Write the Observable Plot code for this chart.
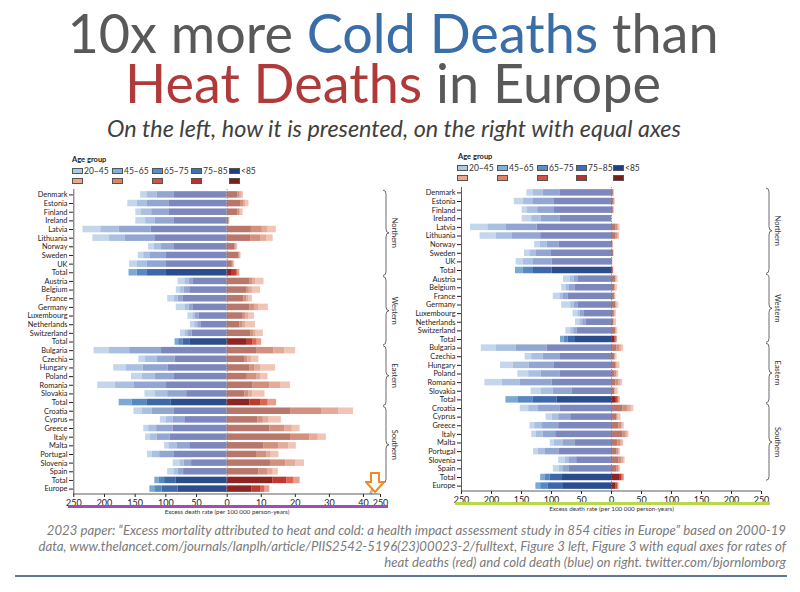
<!DOCTYPE html>
<html><head><meta charset="utf-8">
<script src="https://cdn.jsdelivr.net/npm/d3@7"></script>
<script src="https://cdn.jsdelivr.net/npm/@observablehq/plot@0.6"></script>
<style>
body{margin:0;background:#fff;}
#root{position:relative;width:800px;height:592px;overflow:hidden;font-family:Lato,"Open Sans",sans-serif;}
.t{position:absolute;left:0;width:800px;text-align:center;color:#595959;white-space:nowrap;}
.title{top:1.6px;left:-7px;font-size:54px;line-height:50px;padding:6px 0;}
.sub{top:115px;left:-6px;font-size:23.4px;line-height:28px;font-style:italic;color:#404040;margin-top:-1px;}
.blue{color:#3a6ea8}.red{color:#b03a3a}
.cap{position:absolute;right:14px;top:522px;width:790px;text-align:right;font-style:italic;color:#7a7a7a;font-size:13.2px;line-height:16px;white-space:nowrap;}
.rule{position:absolute;left:15px;width:772px;top:575px;height:1.5px;background:#5b7a99;}
.panel{position:absolute;top:150px;}
.leg{position:absolute;color:#222;}
.leg b{position:absolute;font-size:7.5px;line-height:8px;white-space:nowrap;}
.sw{position:absolute;width:11px;height:6px;border:0.6px solid #555;box-sizing:border-box;}
.lbl{position:absolute;font-size:8.5px;line-height:9px;white-space:nowrap;color:#333;}
.line{position:absolute;height:3px;}
</style></head><body><div id="root">
<div class="t title">10x more <span class="blue">Cold Deaths</span> than<br><span class="red">Heat Deaths</span> in Europe</div>
<div class="t sub">On the left, how it is presented, on the right with equal axes</div>
<div class="cap">2023 paper: “Excess mortality attributed to heat and cold: a health impact assessment study in 854 cities in Europe” based on 2000-19<br>data, www.thelancet.com/journals/lanplh/article/PIIS2542-5196(23)00023-2/fulltext, Figure 3 left, Figure 3 with equal axes for rates of<br>heat deaths (red) and cold death (blue) on right. twitter.com/bjornlomborg</div>
<div class="rule"></div>
</div>
<script>
const rows = ["Denmark","Estonia","Finland","Ireland","Latvia","Lithuania","Norway","Sweden","UK","Total",
  "Austria","Belgium","France","Germany","Luxembourg","Netherlands","Switzerland","Total",
  "Bulgaria","Czechia","Hungary","Poland","Romania","Slovakia","Total",
  "Croatia","Cyprus","Greece","Italy","Malta","Portugal","Slovenia","Spain","Total","Europe"];
const region = [...Array(10).fill("Northern"),...Array(8).fill("Western"),...Array(7).fill("Eastern"),...Array(9).fill("Southern"),"Europe"];
const groupNames = ["Northern","Western","Eastern","Southern"];
const ageGroups = ["20–45","45–65","65–75","75–85","<85"];
// cumulative cold-death rates, inner segment to outer (per 100 000 person-years)
const cold = [
 [86,114,130,141],[95,130,147,162],[95,123,140,149],[86,117,133,149],[124,176,206,235],
 [118,166,192,219],[87,107,119,128],[100,126,136,145],[99,130,147,159],[99,130,147,160],
 [56,62,69,80],[61,70,76,83],[72,80,86,97],[56,62,68,83],[46,52,56,64],
 [42,48,53,60],[57,63,68,76],[60,72,79,85],
 [107,159,192,217],[85,114,133,144],[96,137,164,185],[86,117,138,156],[99,152,182,211],
 [66,97,117,134],[91,131,155,176],
 [86,122,138,152],[68,88,99,109],[88,115,128,136],[93,114,125,133],[61,81,95,102],
 [87,110,122,130],[58,70,77,88],[71,80,87,97],[83,102,111,118],[80,106,118,126]];
// cumulative heat-death rates, inner segment to outer
const heat = [
 [3.1,3.8,4.4,4.8],[3.9,4.8,5.4,6.4],[3.1,3.7,4.1,4.7],[0.4,0.6,0.7,0.8],[7.1,10.3,12.0,14.4],
 [6.9,9.8,11.6,13.5],[2.2,2.6,2.9,3.1],[3.4,3.7,3.9,4.1],[1.5,1.8,2.0,2.2],[1.5,2.7,3.2,3.7],
 [6.6,7.5,8.3,10.8],[5.7,6.5,7.4,9.8],[4.9,5.7,6.4,7.4],[6.7,8.0,9.3,12.1],[4.7,5.5,6.4,8.0],
 [3.7,4.5,5.4,8.3],[6.9,7.7,8.5,10.6],[5.9,7.6,8.8,10.1],
 [8.8,13.7,16.9,20.1],[5.1,6.1,7.1,9.3],[6.7,8.2,9.8,14.2],[5.9,8.6,9.8,12.0],[7.6,12.5,15.7,18.6],
 [5.2,6.3,7.4,11.1],[6.7,9.8,12.0,14.5],
 [18.6,27.7,32.8,37.1],[9.0,10.6,12.3,15.9],[12.5,16.9,19.1,21.4],[18.6,24.3,26.7,29.1],[10.8,15.2,18.1,20.3],
 [8.6,11.6,12.9,15.2],[12.7,17.2,20.1,22.7],[9.3,12.0,13.5,15.0],[13.4,17.5,19.6,21.4],[7.2,9.8,11.1,12.5]];
const leftTicks = [-250,-200,-150,-100,-50,0,10,20,30,40,45];
const rightTicks = [-250,-200,-150,-100,-50,0,50,100,150,200,250];

const coldCountry = ["#7c88bd","#93a6d2","#a9c0e0","#c3d6eb"];
const coldTotal = ["#2b4d8e","#3f68aa","#5689c1","#7ba9d3"];
const heatCountry = ["#b8776a","#d2907e","#e4aa9a","#f1c5b6"];
const heatTotal = ["#8e2424","#c0392f","#dc6552","#ec9c8a"];
const legBlue = ["#a9cbe8","#7fb0db","#5a8fc6","#3d70b8","#1e3f87"];
const legRed = ["#f0a58c","#e68063","#d8503f","#bd2e2e","#7c1c1c"];

const keys = rows.map((r,i) => region[i] + ":" + r);
const segs = [];
rows.forEach((r,i) => {
  const tot = r === "Total" || r === "Europe";
  cold[i].forEach((v,k) => segs.push({key: keys[i], side: "cold", k, x1: -(k ? cold[i][k-1] : 0), x2: -v,
    fill: (tot ? coldTotal : coldCountry)[k]}));
  heat[i].forEach((v,k) => segs.push({key: keys[i], side: "heat", k, x1: k ? heat[i][k-1] : 0, x2: v,
    fill: (tot ? heatTotal : heatCountry)[k]}));
});
segs.sort((a,b) => b.k - a.k);

const font = "Lato, 'Open Sans', sans-serif";

function decorations(braceX, labelX) {
  return (index, scales, values, dims) => {
    const y = scales.y;
    const bw = y.bandwidth ? y.bandwidth() : 6;
    const step = y.step ? y.step() : bw;
    const g = d3.create("svg:g").attr("font-family", font);
    g.append("line").attr("x1", dims.marginLeft).attr("x2", dims.width - dims.marginRight)
      .attr("y1", dims.height - dims.marginBottom).attr("y2", dims.height - dims.marginBottom)
      .attr("stroke", "#333").attr("stroke-width", 0.8);
    for (const grp of groupNames) {
      const ks = keys.filter((k,i) => region[i] === grp);
      const y1 = y(ks[0]) - (step - bw) / 2;
      const y2 = y(ks[ks.length-1]) + bw + (step - bw) / 2 - 1;
      const ym = (y1 + y2) / 2, w = 3, r = 4, x = braceX;
      g.append("path")
        .attr("d", `M${x},${y1} Q${x+w},${y1} ${x+w},${y1+r} L${x+w},${ym-r} Q${x+w},${ym} ${x+2*w},${ym} Q${x+w},${ym} ${x+w},${ym+r} L${x+w},${y2-r} Q${x+w},${y2} ${x},${y2}`)
        .attr("fill", "none").attr("stroke", "#444").attr("stroke-width", 0.8);
      g.append("text").attr("transform", `translate(${labelX},${ym}) rotate(90)`)
        .attr("text-anchor", "middle").attr("dy", "0.35em").attr("font-size", 7.5).attr("fill", "#333").text(grp);
    }
    return g.node();
  };
}

function makePlot(opts) {
  return Plot.plot({
    width: 400, height: 370,
    marginLeft: opts.ml, marginRight: opts.mr, marginTop: opts.mt, marginBottom: opts.mb,
    style: {fontFamily: font, fontSize: "9px", color: "#222", background: "transparent", overflow: "visible"},
    x: {type: "linear", domain: opts.domain, range: opts.range, ticks: opts.ticks, tickFormat: opts.tickFormat, label: null, tickSize: 3, tickPadding: 2},
    y: {domain: keys, padding: 0.25, round: false, label: null},
    marks: [
      Plot.axisY({tickFormat: k => k.split(":")[1], tickSize: 4, tickPadding: 2, fontSize: 7.4, label: null}),
      Plot.barX(segs, {y: "key", x1: "x1", x2: "x2", fill: "fill"}),
      Plot.ruleX([0], {stroke: "#777", strokeWidth: 0.8, strokeDasharray: "1.2,1.6"}),
      Plot.ruleX([opts.domain[0]], {stroke: "#333", strokeWidth: 0.8}),
      Plot.text(["Excess death rate (per 100 000 person-years)"], {frameAnchor: "bottom", dy: 19, fontSize: 6.3, fill: "#333"}),
      ...(opts.extra || []),
      decorations(opts.braceX, opts.labelX)
    ]
  });
}

const root = document.getElementById("root");

const left = makePlot({ml: 73, mr: 20, mt: 39, mb: 26, domain: [-250, 0, 45], range: [73.3, 226.7, 380],
  ticks: leftTicks, tickFormat: v => v === 45 ? "250" : String(Math.abs(v)), braceX: 383, labelX: 395,
  extra: [Plot.text([42.4], {x: d => d, frameAnchor: "bottom", dy: -1, text: () => "//", fontSize: 7, fill: "#333"})]});
const right = makePlot({ml: 61, mr: 39, mt: 37, mb: 29, domain: [-250, 250], range: [61, 361],
  ticks: rightTicks, tickFormat: v => String(Math.abs(v)), braceX: 366, labelX: 378});

function panel(svg, x) {
  const d = document.createElement("div");
  d.className = "panel"; d.style.left = x + "px";
  d.appendChild(svg); root.appendChild(d);
}
panel(left, 0); panel(right, 400);

function legend(x0, y0, xs) {
  const d = document.createElement("div");
  d.className = "leg"; d.style.left = "0px"; d.style.top = "0px";
  let h = `<b style="left:${x0}px;top:${y0}px">Age group</b>`;
  ageGroups.forEach((a,i) => {
    h += `<div class="sw" style="left:${xs[i]}px;top:${y0+12}px;background:${legBlue[i]}"></div>`;
    h += `<div class="lbl" style="left:${xs[i]+12}px;top:${y0+10.5}px">${a.replace("<","&lt;")}</div>`;
    h += `<div class="sw" style="left:${xs[i]}px;top:${y0+22}px;background:${legRed[i]}"></div>`;
  });
  d.innerHTML = h; root.appendChild(d);
}
legend(72, 156, [72, 112, 152, 191, 229]);
legend(458, 153, [457, 497, 537, 576, 613]);

const l1 = document.createElement("div"); l1.className = "line";
Object.assign(l1.style, {left: "68px", width: "320px", top: "505px", background: "#a24cb8"}); root.appendChild(l1);
const l2 = document.createElement("div"); l2.className = "line";
Object.assign(l2.style, {left: "455px", width: "315px", top: "502px", background: "#b8d84a"}); root.appendChild(l2);
const arr = document.createElement("div");
arr.style.position = "absolute"; arr.style.left = "365px"; arr.style.top = "472px";
arr.innerHTML = `<svg width="20" height="22"><path d="M6,1 L14,1 L14,10 L19,10 L10,20 L1,10 L6,10 Z" fill="#fff" stroke="#f08a24" stroke-width="2"/></svg>`;
root.appendChild(arr);
</script></body></html>
